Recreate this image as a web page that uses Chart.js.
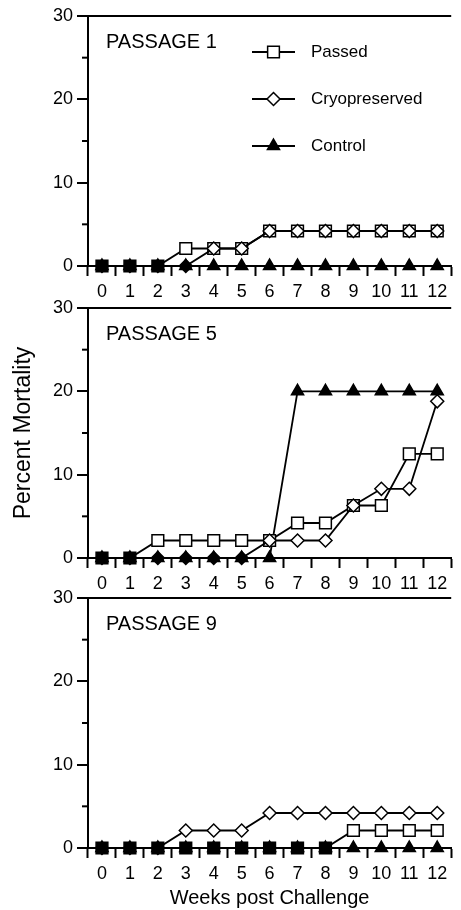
<!DOCTYPE html>
<html>
<head>
<meta charset="utf-8">
<script src="https://cdn.jsdelivr.net/npm/chart.js@4.4.0/dist/chart.umd.min.js"></script>
<style>
body { margin: 0; background: #fff; }
#wrap { position: relative; width: 461px; height: 910px; }
canvas { position: absolute; left: 0; }
</style>
</head>
<body>
<div id="wrap">
  <canvas id="p1" width="461" height="300" style="top:0px"></canvas>
  <canvas id="p5" width="461" height="300" style="top:290px"></canvas>
  <canvas id="p9" width="461" height="330" style="top:580px"></canvas>
</div>
<script>
// weeks post challenge
var weeks = ['0', '1', '2', '3', '4', '5', '6', '7', '8', '9', '10', '11', '12'];
var yTicks = [0, 10, 20, 30];
var minorTickValues = [5, 15, 25];

// percent mortality, passage 1
var p1Passed  = [0, 0, 0, 2.1, 2.1, 2.1, 4.2, 4.2, 4.2, 4.2, 4.2, 4.2, 4.2];
var p1Cryo    = [0, 0, 0, 0, 2.1, 2.1, 4.2, 4.2, 4.2, 4.2, 4.2, 4.2, 4.2];
var p1Control = [0, 0, 0, 0, 0, 0, 0, 0, 0, 0, 0, 0, 0];

// passage 5
var p5Passed  = [0, 0, 2.1, 2.1, 2.1, 2.1, 2.1, 4.2, 4.2, 6.3, 6.3, 12.5, 12.5];
var p5Cryo    = [0, 0, 0, 0, 0, 0, 2.1, 2.1, 2.1, 6.3, 8.3, 8.3, 18.8];
var p5Control = [0, 0, 0, 0, 0, 0, 0, 20, 20, 20, 20, 20, 20];

// passage 9
var p9Passed  = [0, 0, 0, 0, 0, 0, 0, 0, 0, 2.1, 2.1, 2.1, 2.1];
var p9Cryo    = [0, 0, 0, 2.1, 2.1, 2.1, 4.2, 4.2, 4.2, 4.2, 4.2, 4.2, 4.2];
var p9Control = [0, 0, 0, 0, 0, 0, 0, 0, 0, 0, 0, 0, 0];

var fam = '"Liberation Sans", Arial, Helvetica, sans-serif';
Chart.defaults.font.family = fam;
Chart.defaults.color = '#000';

// short minor ticks on the y axis
var minorTicks = {
  id: 'minorTicks',
  afterDraw: function(chart) {
    var y = chart.scales.y, ctx = chart.ctx, left = chart.chartArea.left;
    ctx.save();
    ctx.strokeStyle = '#000';
    ctx.lineWidth = 2;
    minorTickValues.forEach(function(v) {
      var py = y.getPixelForValue(v);
      ctx.beginPath();
      ctx.moveTo(left - 6, py);
      ctx.lineTo(left, py);
      ctx.stroke();
    });
    ctx.restore();
  }
};

// "PASSAGE n" inside the plot
var panelLabel = {
  id: 'panelLabel',
  afterDraw: function(chart, args, opts) {
    var ctx = chart.ctx, a = chart.chartArea;
    ctx.save();
    ctx.fillStyle = '#000';
    ctx.font = '20px ' + fam;
    ctx.textAlign = 'left';
    ctx.textBaseline = 'middle';
    ctx.fillText(opts.text, a.left + 18, a.top + 26);
    ctx.restore();
  }
};

// legend with line + marker sample
var lineLegend = {
  id: 'lineLegend',
  afterDraw: function(chart, args, opts) {
    if (!opts.show) return;
    var ctx = chart.ctx, a = chart.chartArea;
    chart.data.datasets.forEach(function(ds, i) {
      var y = a.top + 36 + i * 47;
      var x0 = a.left + 164, x1 = a.left + 207;
      ctx.save();
      ctx.strokeStyle = '#000';
      ctx.lineWidth = 1.8;
      ctx.beginPath();
      ctx.moveTo(x0, y);
      ctx.lineTo(x1, y);
      ctx.stroke();
      ctx.lineWidth = 1.5;
      ctx.fillStyle = ds.label === 'Control' ? '#000' : '#fff';
      Chart.helpers.drawPoint(ctx, {pointStyle: ds.pointStyle, radius: ds.pointRadius, borderWidth: 1.5, rotation: 0}, (x0 + x1) / 2, y);
      ctx.fillStyle = '#000';
      ctx.font = '17px ' + fam;
      ctx.textAlign = 'left';
      ctx.textBaseline = 'middle';
      ctx.fillText(ds.label, a.left + 223, y);
      ctx.restore();
    });
  }
};

function makePanel(id, name, passed, cryo, control, topPad, xHeight, withLegend, yTitle, xTitle) {
  var ctx = document.getElementById(id).getContext('2d');
  return new Chart(ctx, {
    type: 'line',
    data: {
      labels: weeks,
      datasets: [{
        label: 'Passed',
        data: passed,
        order: 1,
        pointStyle: 'rect',
        pointRadius: 8.3,
        pointBackgroundColor: function(c) { return passed[c.dataIndex] === control[c.dataIndex] ? '#000' : '#fff'; }
      }, {
        label: 'Cryopreserved',
        data: cryo,
        order: 0,
        pointStyle: 'rectRot',
        pointRadius: 6.5,
        pointBackgroundColor: function(c) { return cryo[c.dataIndex] === control[c.dataIndex] ? '#000' : '#fff'; }
      }, {
        label: 'Control',
        data: control,
        order: 2,
        pointStyle: 'triangle',
        pointRadius: 7,
        pointBackgroundColor: '#000'
      }].map(function(ds) {
        ds.borderColor = '#000';
        ds.borderWidth = 1.8;
        ds.pointBorderColor = '#000';
        ds.pointBorderWidth = 1.5;
        ds.pointHoverRadius = ds.pointRadius;
        ds.tension = 0;
        ds.fill = false;
        ds.clip = false;
        return ds;
      })
    },
    options: {
      responsive: false,
      animation: false,
      devicePixelRatio: 1,
      layout: { padding: { top: topPad, left: 0, right: 0, bottom: 0 } },
      plugins: {
        legend: { display: false },
        tooltip: { enabled: false },
        panelLabel: { text: name },
        lineLegend: { show: withLegend }
      },
      scales: {
        x: {
          type: 'category',
          offset: true,
          grid: { offset: true, drawOnChartArea: false, tickLength: 10, tickWidth: 2, tickColor: '#000' },
          border: { color: '#000', width: 2 },
          ticks: { color: '#000', font: { size: 18 }, padding: 5, maxRotation: 0, autoSkip: false },
          title: { display: !!xTitle, text: xTitle || '', color: '#000', font: { size: 20 }, padding: { top: 0, bottom: 0 } },
          afterFit: function(s) { s.height = xHeight; }
        },
        y: {
          min: 0,
          max: 30,
          afterBuildTicks: function(s) { s.ticks = yTicks.map(function(v) { return { value: v }; }); },
          ticks: { color: '#000', font: { size: 18 }, padding: 4 },
          grid: {
            color: function(c) { return c.tick && c.tick.value === 30 ? '#000' : 'rgba(0,0,0,0)'; },
            lineWidth: 2, tickColor: '#000', tickLength: 11, tickWidth: 2
          },
          border: { color: '#000', width: 2 },
          title: { display: !!yTitle, text: yTitle || '', color: '#000', font: { size: 23 }, padding: { top: 10, bottom: 0 } },
          afterFit: function(s) { s.width = 88; }
        }
      }
    },
    plugins: [minorTicks, panelLabel, lineLegend]
  });
}

makePanel('p1', 'PASSAGE 1', p1Passed, p1Cryo, p1Control, 16, 34, true, null, null);
makePanel('p5', 'PASSAGE 5', p5Passed, p5Cryo, p5Control, 18, 32, false, 'Percent Mortality', null);
makePanel('p9', 'PASSAGE 9', p9Passed, p9Cryo, p9Control, 18, 62, false, null, 'Weeks post Challenge');
</script>
</body>
</html>
